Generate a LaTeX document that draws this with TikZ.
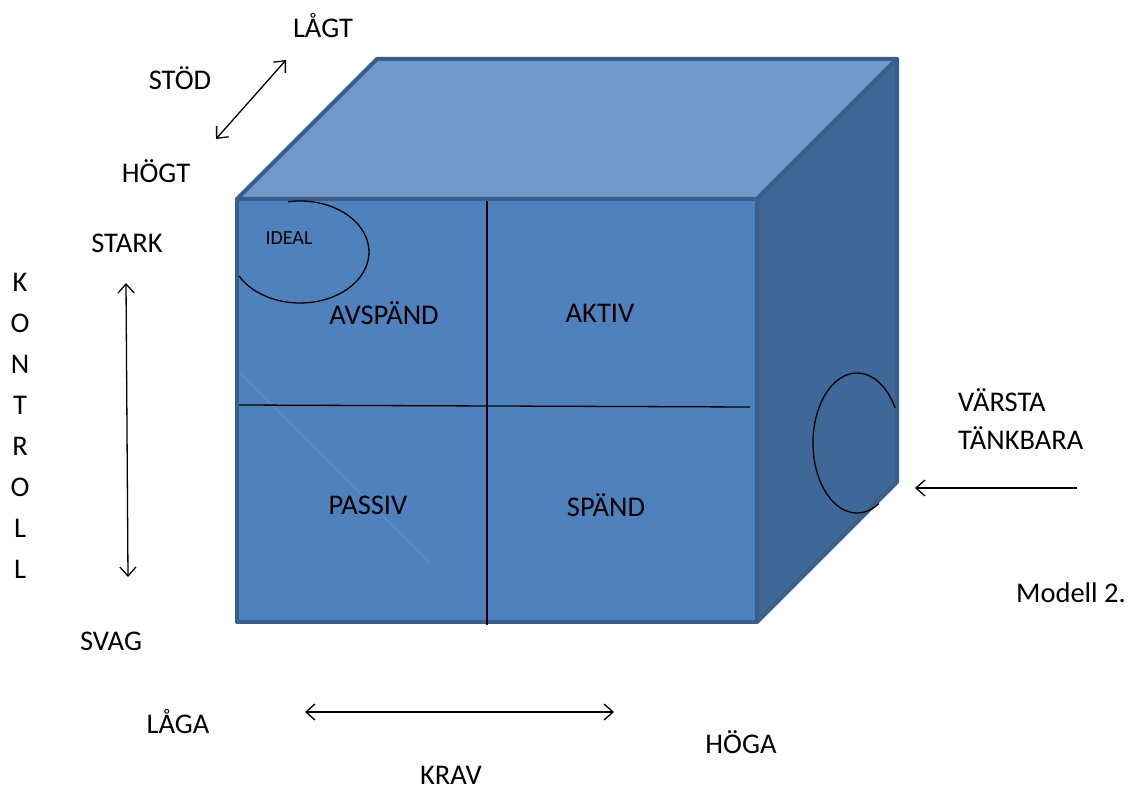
\documentclass[tikz,border=0pt]{standalone}
\usepackage{fontspec}
\setmainfont{Carlito}
\usetikzlibrary{arrows.meta}
\begin{document}
\begin{tikzpicture}[x=1pt,y=-1pt,
  lbl/.style={font=\fontsize{28.5}{30}\selectfont, inner sep=0pt},
  smalllbl/.style={font=\fontsize{20}{22}\selectfont, inner sep=0pt},
  face/.style={draw=edgeblue, line width=4pt, line join=round},
  thin/.style={draw=black, line width=1.3pt},
  arr/.style={draw=black, line width=1.3pt, <->, >={Straight Barb[length=9pt,width=16pt]}},
]
\definecolor{edgeblue}{HTML}{3A5E8C}
\definecolor{frontblue}{HTML}{4F81BD}
\definecolor{topblue}{HTML}{7299CA}
\definecolor{sideblue}{HTML}{3F6797}
\useasboundingbox (0,0) rectangle (1131,791);
% cube corners
\coordinate (ftl) at (237,199);
\coordinate (ftr) at (757,199);
\coordinate (fbr) at (757,622);
\coordinate (fbl) at (237,622);
\coordinate (btl) at (377,59);
\coordinate (btr) at (897,59);
\coordinate (bbr) at (897,482);
% faces
\path[face, fill=topblue] (ftl) -- (btl) -- (btr) -- (ftr) -- cycle;
\path[face, fill=sideblue] (ftr) -- (btr) -- (bbr) -- (fbr) -- cycle;
\path[face, fill=frontblue] (ftl) -- (ftr) -- (fbr) -- (fbl) -- cycle;
% faint diagonal
\coordinate (d1) at (240,373);
\coordinate (d2) at (430,563);
\draw[white, opacity=0.12, line width=1pt] (d1) -- (d2);
% dividing lines
\coordinate (vtop) at (487,201);
\coordinate (vbot) at (487,625);
\coordinate (hl) at (239,405);
\coordinate (hr) at (750,407);
\draw[thin] (vtop) -- (vbot);
\draw[thin] (hl) -- (hr);
% quadrant labels
\node[lbl] (avspand) at (384,313) {AVSPÄND};
\node[lbl] (aktiv) at (600,313) {AKTIV};
\node[lbl] (passiv) at (368,505) {PASSIV};
\node[lbl] (spand) at (606,505) {SPÄND};
% ideal arc
\node[smalllbl] (ideal) at (289,238) {IDEAL};
\draw[thin] (300,252) ++(-100:69 and 51) arc[start angle=-100, end angle=152, x radius=69, y radius=51];
% worst arc
\draw[thin] (857,443) ++(-30:44 and 70) arc[start angle=-30, end angle=-300, x radius=44, y radius=70];
% arrows
\coordinate (sa) at (216,139);
\coordinate (sb) at (286,60);
\draw[arr] (sa) -- (sb);
\coordinate (ka) at (126,283);
\coordinate (kb) at (128,577);
\draw[arr] (ka) -- (kb);
\coordinate (ra) at (305,712);
\coordinate (rb) at (614,712);
\draw[arr] (ra) -- (rb);
\coordinate (wa) at (1077,488);
\coordinate (wb) at (915,488);
\draw[thin, ->, >={Straight Barb[length=9pt,width=16pt]}] (wa) -- (wb);
% outer labels
\node[lbl] (lagt) at (323,26) {LÅGT};
\node[lbl] (stod) at (180,78) {STÖD};
\node[lbl] (hogt) at (156,171) {HÖGT};
\node[lbl] (stark) at (127,243) {STARK};
\node[lbl] (svag) at (111,641) {SVAG};
\node[lbl] (laga) at (178,722) {LÅGA};
\node[lbl] (krav) at (451,775) {KRAV};
\node[lbl] (hoga) at (741,742) {HÖGA};
\node[lbl, anchor=west] (varsta) at (958,400) {VÄRSTA};
\node[lbl, anchor=west] (tankbara) at (958,438) {TÄNKBARA};
\node[lbl] (modell) at (1071,593) {Modell 2.};
\foreach \c [count=\i from 0] in {K,O,N,T,R,O,L,L}{
  \node[lbl] (k\i) at (20,{282+41.1*\i}) {\c};
}
\end{tikzpicture}
\end{document}
